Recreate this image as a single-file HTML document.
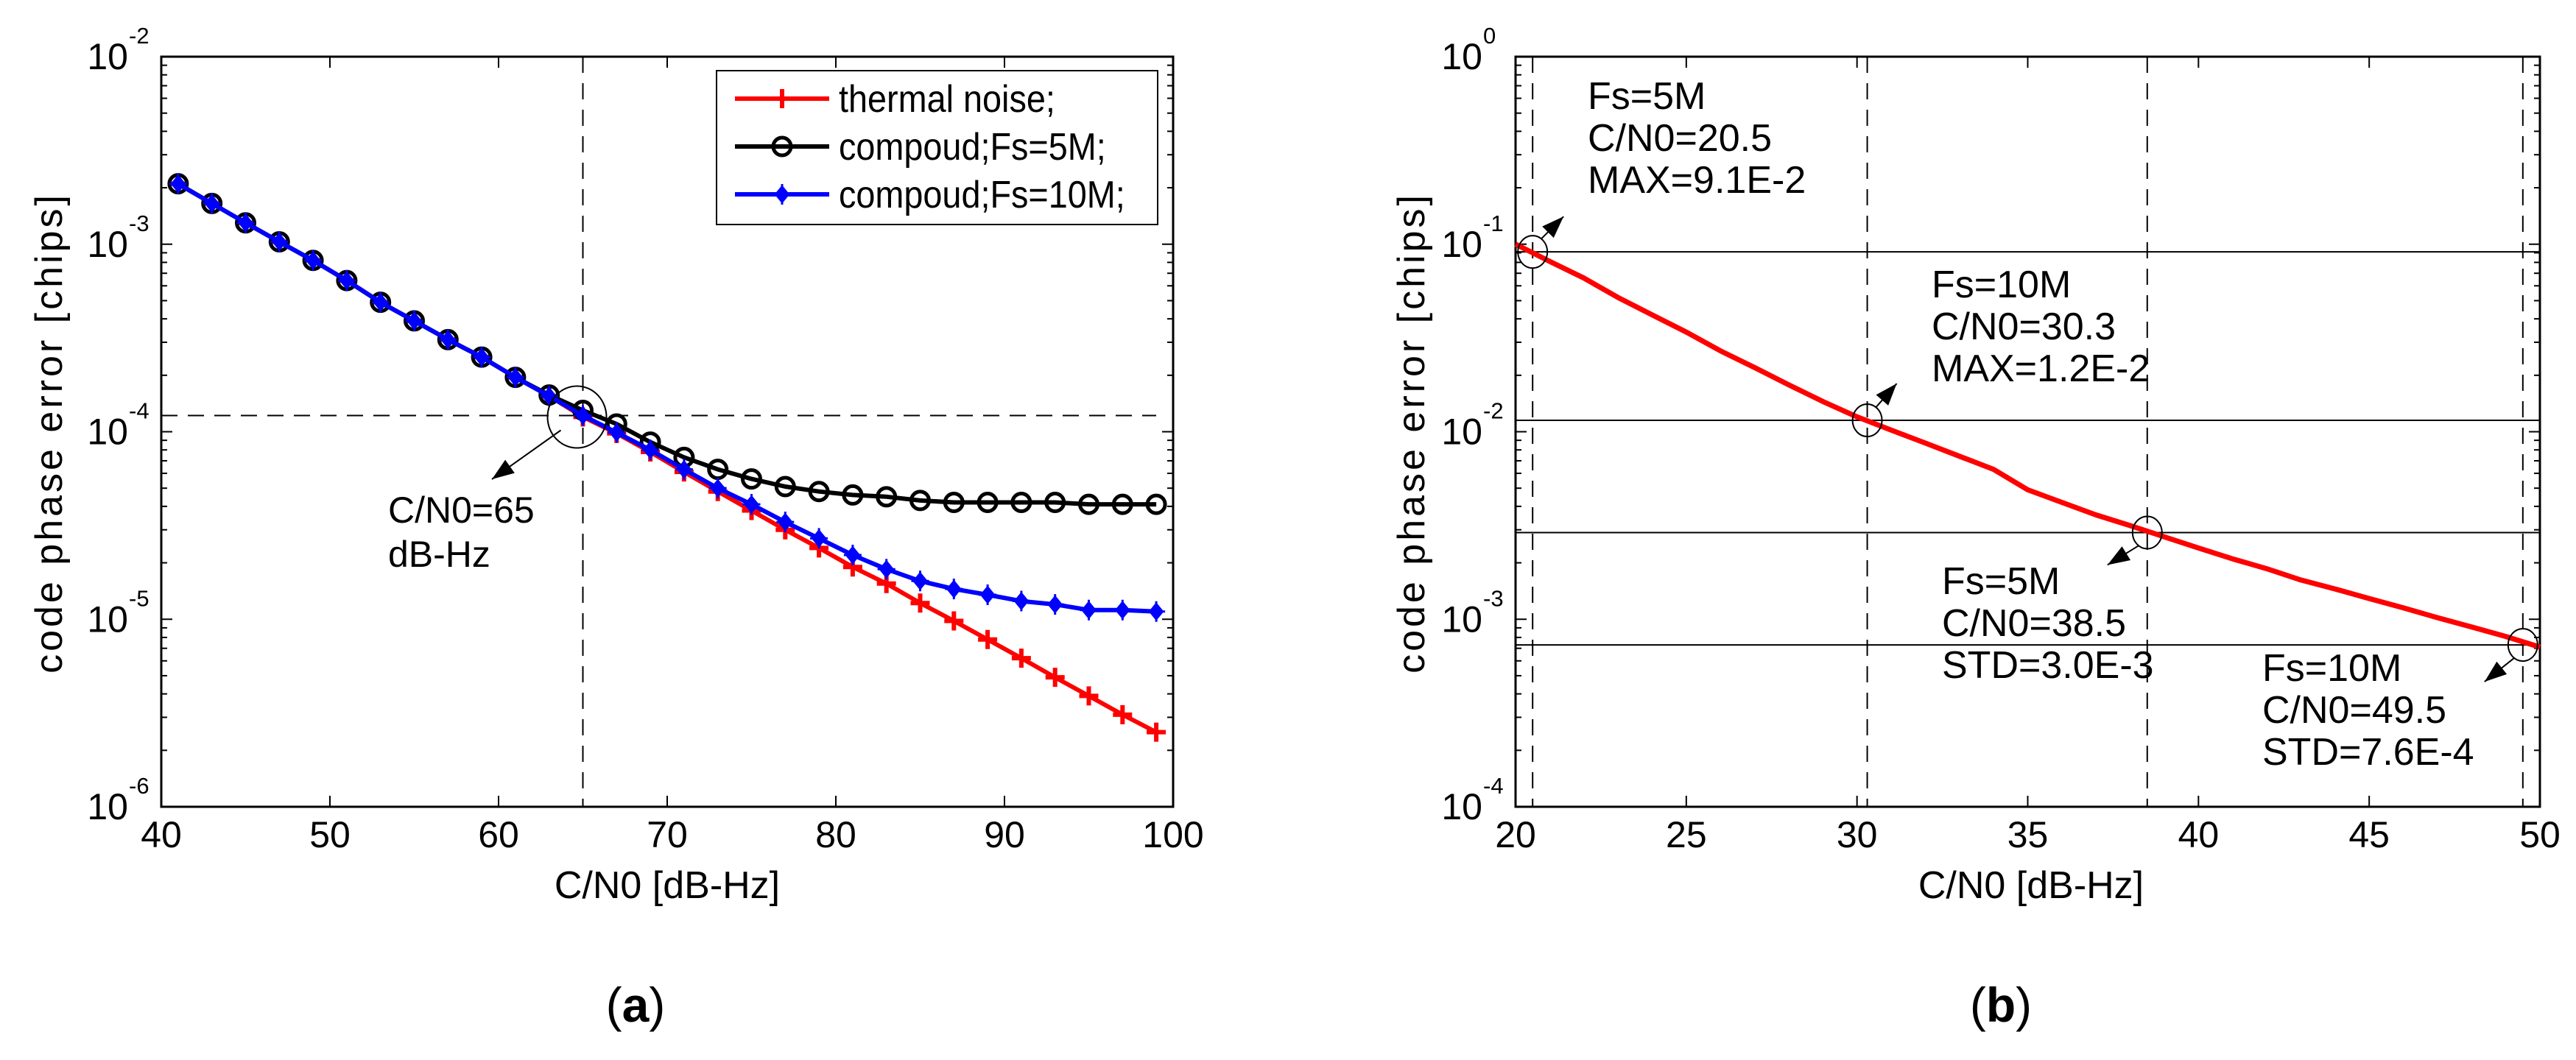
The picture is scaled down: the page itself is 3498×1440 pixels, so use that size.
<!DOCTYPE html>
<html><head><meta charset="utf-8"><style>
html,body{margin:0;padding:0;background:#fff;}
svg{display:block;}
text{font-family:"Liberation Sans",Arial,sans-serif;fill:#000;}
</style></head><body>
<svg id="fig" width="3498" height="1440" viewBox="0 0 3498 1440" xmlns="http://www.w3.org/2000/svg"></svg>
<script>
// ---- Panel (a) data ----
const snrA = [41,43,45,47,49,51,53,55,57,59,61,63,65,67,69,71,73,75,77,79,81,83,85,87,89,91,93,95,97,99];
const thermal = [2.1e-3,1.65e-3,1.3e-3,1.03e-3,8.2e-4,6.4e-4,4.9e-4,3.9e-4,3.1e-4,2.5e-4,1.95e-4,1.55e-4,1.2e-4,9.8e-5,7.8e-5,6.1e-5,4.8e-5,3.8e-5,3.0e-5,2.4e-5,1.9e-5,1.55e-5,1.22e-5,9.8e-6,7.8e-6,6.2e-6,4.9e-6,3.9e-6,3.1e-6,2.5e-6];
const fs5M = [2.1e-3,1.65e-3,1.3e-3,1.03e-3,8.2e-4,6.4e-4,4.9e-4,3.9e-4,3.1e-4,2.5e-4,1.95e-4,1.57e-4,1.3e-4,1.1e-4,8.8e-5,7.3e-5,6.3e-5,5.6e-5,5.1e-5,4.8e-5,4.6e-5,4.5e-5,4.3e-5,4.2e-5,4.2e-5,4.2e-5,4.2e-5,4.1e-5,4.1e-5,4.1e-5];
const fs10M = [2.1e-3,1.65e-3,1.3e-3,1.03e-3,8.2e-4,6.4e-4,4.9e-4,3.9e-4,3.1e-4,2.5e-4,1.95e-4,1.55e-4,1.22e-4,9.9e-5,8.0e-5,6.3e-5,5.0e-5,4.1e-5,3.3e-5,2.7e-5,2.2e-5,1.85e-5,1.6e-5,1.45e-5,1.35e-5,1.25e-5,1.2e-5,1.12e-5,1.12e-5,1.1e-5];
const xTicksA = [40,50,60,70,80,90,100];
const yExpA = [-2,-3,-4,-5,-6];
const markA = {x:65, y:1.22e-4};
// ---- Panel (b) data ----
const snrB = [20,21,22,23,24,25,26,27,28,29,30,31,32,33,34,35,36,37,38,39,40,41,42,43,44,45,46,47,48,49,50];
const errB = [1.0e-1,8.1e-2,6.6e-2,5.2e-2,4.2e-2,3.4e-2,2.7e-2,2.2e-2,1.78e-2,1.45e-2,1.2e-2,1.02e-2,8.7e-3,7.4e-3,6.3e-3,4.9e-3,4.2e-3,3.6e-3,3.16e-3,2.75e-3,2.4e-3,2.1e-3,1.86e-3,1.62e-3,1.45e-3,1.29e-3,1.15e-3,1.02e-3,9.1e-4,8.1e-4,7.1e-4];
const xTicksB = [20,25,30,35,40,45,50];
const yExpB = [0,-1,-2,-3,-4];
const markX = [20.5,30.3,38.5,49.5];
const markY = [9.1e-2,1.15e-2,2.9e-3,7.3e-4];
const annoLines = [["Fs=5M","C/N0=20.5","MAX=9.1E-2"],["Fs=10M","C/N0=30.3","MAX=1.2E-2"],["Fs=5M","C/N0=38.5","STD=3.0E-3"],["Fs=10M","C/N0=49.5","STD=7.6E-4"]];

const NS="http://www.w3.org/2000/svg";
const svg=document.getElementById('fig');
function el(tag,attrs,parent,txt){const e=document.createElementNS(NS,tag);for(const k in attrs)e.setAttribute(k,attrs[k]);if(txt!==undefined)e.textContent=txt;(parent||svg).appendChild(e);return e;}

function makeAxes(name,L,R,T,B,xmin,xmax,ymaxExp,yminExp,xTicks,yExps){
  const g=el('g',{});
  
  
  const sx=v=>L+(v-xmin)/(xmax-xmin)*(R-L);
  const sy=v=>T+(ymaxExp-Math.log10(v))/(ymaxExp-yminExp)*(B-T);
  xTicks.forEach(v=>{const x=sx(v);
    el('line',{x1:x,y1:B,x2:x,y2:B-15,stroke:'#000','stroke-width':2},g);
    el('line',{x1:x,y1:T,x2:x,y2:T+15,stroke:'#000','stroke-width':2},g);
    const t=el('text',{x:x,y:B+55,'font-size':50,'text-anchor':'middle'},g,String(v));
    
    
  });
  for(let e=ymaxExp;e>yminExp;e--){
    for(let m=2;m<=9;m++){const y=sy(m*Math.pow(10,e-1));
      el('line',{x1:L,y1:y,x2:L+8,y2:y,stroke:'#000','stroke-width':2},g);
      el('line',{x1:R,y1:y,x2:R-8,y2:y,stroke:'#000','stroke-width':2},g);}
  }
  yExps.forEach(e=>{const y=sy(Math.pow(10,e));
    el('line',{x1:L,y1:y,x2:L+15,y2:y,stroke:'#000','stroke-width':2},g);
    el('line',{x1:R,y1:y,x2:R-15,y2:y,stroke:'#000','stroke-width':2},g);
    const t=el('text',{x:L-45,y:y+17,'font-size':50,'text-anchor':'end'},g,'10');
    
    
    el('text',{x:L-44,y:y-18,'font-size':31,'text-anchor':'start'},g,String(e));
  });
  el('rect',{x:L,y:T,width:R-L,height:B-T,fill:'none',stroke:'#000','stroke-width':3},g);
  return {sx,sy,g};
}
function pathFrom(xs,ys,A){return xs.map((v,i)=>(i?'L':'M')+A.sx(v).toFixed(1)+','+A.sy(ys[i]).toFixed(1)).join(' ');}
function arrow(x1,y1,x2,y2,parent){
  el('line',{x1,y1,x2,y2,stroke:'#000','stroke-width':2},parent);
  const a=Math.atan2(y2-y1,x2-x1),L=30,W=11;
  const bx=x2-L*Math.cos(a),by=y2-L*Math.sin(a);
  const p=[[x2,y2],[bx+W*Math.sin(a),by-W*Math.cos(a)],[bx-W*Math.sin(a),by+W*Math.cos(a)]];
  el('polygon',{points:p.map(q=>q.join(',')).join(' '),fill:'#000'},parent);
}

// ===== Panel A =====
const A=makeAxes('axes-a',219,1593,77,1096,40,100,-2,-6,xTicksA,yExpA);
const gdA=el('g',{});


el('line',{x1:A.sx(markA.x),y1:77,x2:A.sx(markA.x),y2:1096,stroke:'#000','stroke-width':2,'stroke-dasharray':'22,14'},gdA);
el('line',{x1:219,y1:A.sy(markA.y),x2:1570,y2:A.sy(markA.y),stroke:'#000','stroke-width':2,'stroke-dasharray':'22,14'},gdA);
function drawMarker(g,marker,x,y,color){
  if(marker==='plus'){el('path',{d:`M${x-13},${y}H${x+13}M${x},${y-13}V${y+13}`,stroke:color,'stroke-width':6},g);}
  else if(marker==='circle'){el('circle',{cx:x,cy:y,r:12,fill:'none',stroke:color,'stroke-width':5},g);}
  else {el('path',{d:`M${x},${y-11}L${x+9},${y}L${x},${y+11}L${x-9},${y}Z`,fill:color,stroke:color,'stroke-width':2},g);
        el('path',{d:`M${x-12},${y}H${x+12}M${x},${y-14}V${y+14}`,stroke:color,'stroke-width':3},g);}
}
function series(name,ys,color,marker){
  const g=el('g',{});
  
  
  el('path',{d:pathFrom(snrA,ys,A),fill:'none',stroke:color,'stroke-width':6,'stroke-linejoin':'round'},g);
  snrA.forEach((v,i)=>{drawMarker(g,marker,A.sx(v),A.sy(ys[i]),color);});
}
series('series-thermal-noise',thermal,'#ff0000','plus');
series('series-compound-5M',fs5M,'#000000','circle');
series('series-compound-10M',fs10M,'#0000ff','diamond');
const anA=el('g',{});


el('ellipse',{cx:A.sx(markA.x)-8,cy:A.sy(markA.y)+2,rx:40,ry:42,fill:'none',stroke:'#000','stroke-width':2},anA);
arrow(A.sx(markA.x)-30,A.sy(markA.y)+20,668,651,anA);
el('text',{x:527,y:710,'font-size':50},anA,'C/N0=65');
el('text',{x:527,y:770,'font-size':50},anA,'dB-Hz');
// legend
const lg=el('g',{});


el('rect',{x:973,y:96,width:599,height:209,fill:'#fff',stroke:'#000','stroke-width':2},lg);
[['thermal noise;','#ff0000','plus'],['compoud;Fs=5M;','#000','circle'],['compoud;Fs=10M;','#0000ff','diamond']].forEach((d,i)=>{
  const y=134+i*65;
  const e=el('g',{},lg);
  
  
  el('line',{x1:998,y1:y,x2:1126,y2:y,stroke:d[1],'stroke-width':6},e);
  drawMarker(e,d[2],1062,y,d[1]);
  el('text',{x:0,y:0,'font-size':52,transform:`translate(1139,${y+18}) scale(0.9,1)`},e,d[0]);
});
let t=el('text',{x:906,y:1220,'font-size':52,'text-anchor':'middle'},svg,'C/N0 [dB-Hz]');


t=el('text',{x:0,y:0,'font-size':52,'text-anchor':'middle','letter-spacing':'4',transform:'translate(84,588) rotate(-90)'},svg,'code phase error [chips]');


t=el('text',{x:863,y:1388,'font-size':66,'text-anchor':'middle','font-family':'Liberation Serif, serif'},svg,'');


el('tspan',{},t,'(');el('tspan',{'font-weight':'bold'},t,'a');el('tspan',{},t,')');

// ===== Panel B =====
const B=makeAxes('axes-b',2058,3449,77,1096,20,50,0,-4,xTicksB,yExpB);
const gdB=el('g',{});


markX.forEach((v,i)=>{
  el('line',{x1:B.sx(v),y1:77,x2:B.sx(v),y2:1096,stroke:'#000','stroke-width':2,'stroke-dasharray':'22,14'},gdB);
  el('line',{x1:2058,y1:B.sy(markY[i]),x2:3449,y2:B.sy(markY[i]),stroke:'#000','stroke-width':2},gdB);
});
const sb=el('g',{});


el('path',{d:pathFrom(snrB,errB,B),fill:'none',stroke:'#ff0000','stroke-width':7,'stroke-linejoin':'round'},sb);
const annoPos=[[2156,130],[2623,386],[2637,789],[3072,907]];
const arrowDir=[[30,-30],[28,-32],[-42,26],[-40,32]];
markX.forEach((v,i)=>{
  const g=el('g',{});
  
  
  const x=B.sx(v),y=B.sy(markY[i]);
  el('ellipse',{cx:x,cy:y,rx:20,ry:22,fill:'none',stroke:'#000','stroke-width':2},g);
  const dx=arrowDir[i][0],dy=arrowDir[i][1];
  const sx0=x+Math.sign(dx)*12,sy0=y+Math.sign(dy)*18;
  arrow(sx0,sy0,sx0+dx,sy0+dy,g);
  annoLines[i].forEach((s,j)=>el('text',{x:annoPos[i][0],y:annoPos[i][1]+18+j*57,'font-size':52},g,s));
});
t=el('text',{x:2758,y:1220,'font-size':52,'text-anchor':'middle'},svg,'C/N0 [dB-Hz]');


t=el('text',{x:0,y:0,'font-size':52,'text-anchor':'middle','letter-spacing':'4',transform:'translate(1934,588) rotate(-90)'},svg,'code phase error [chips]');


t=el('text',{x:2717,y:1388,'font-size':66,'text-anchor':'middle','font-family':'Liberation Serif, serif'},svg,'');


el('tspan',{},t,'(');el('tspan',{'font-weight':'bold'},t,'b');el('tspan',{},t,')');
</script>
</body></html>
